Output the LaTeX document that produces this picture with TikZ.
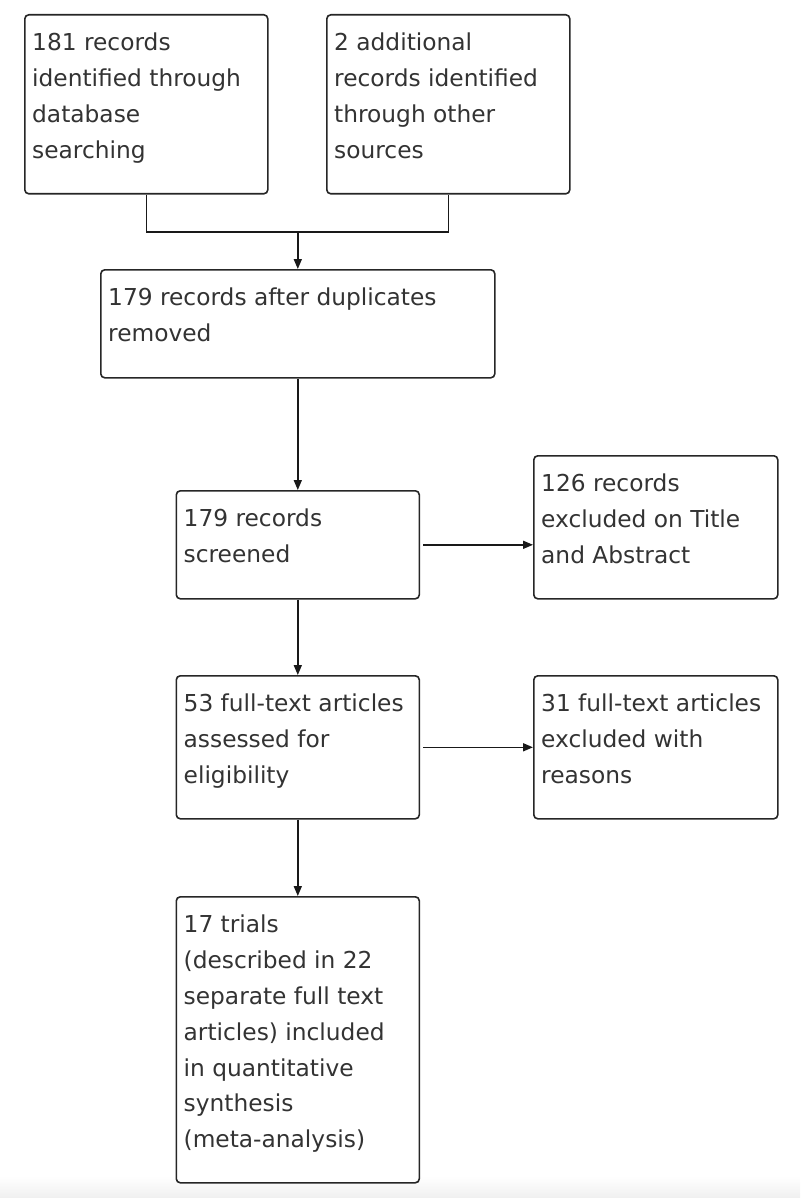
\documentclass[tikz,border=0pt]{standalone}
\usepackage{fontspec}
\setmainfont{DejaVu Sans}
\usetikzlibrary{arrows.meta}
\tikzset{
  box/.style={draw=black!85, line width=1.6pt, fill=white, rounded corners=4pt, inner sep=0pt, anchor=north west},
  txt/.style={inner sep=0pt, anchor=north west, align=left, text=black!80, font=\fontsize{23.3}{35.8}\selectfont},
  conn/.style={draw=black!90, line width=1.6pt},
  arr/.style={conn, -{Triangle[length=10pt,width=8pt]}},
}
\begin{document}
\begin{tikzpicture}[x=1pt,y=-1pt]
\useasboundingbox (0,0) rectangle (800,1198);
\shade[top color=white, bottom color=black!6] (0,1176) rectangle (800,1198);
% boxes
\node[box, minimum width=243pt, minimum height=179pt] (A) at (24,14) {};
\node[box, minimum width=243pt, minimum height=179pt] (B) at (326,14) {};
\node[box, minimum width=394pt, minimum height=108pt] (C) at (100,269) {};
\node[box, minimum width=243pt, minimum height=108pt] (D) at (175.5,490) {};
\node[box, minimum width=244pt, minimum height=143pt] (E) at (533,455) {};
\node[box, minimum width=243pt, minimum height=143pt] (F) at (175.5,675) {};
\node[box, minimum width=244pt, minimum height=143pt] (G) at (533,675) {};
\node[box, minimum width=243pt, minimum height=286pt] (H) at (175.5,896) {};
% texts
\node[txt] (At) at ([xshift=8pt,yshift=-19pt]A.north west) {181 records\\identified through\\database\\searching};
\node[txt] (Bt) at ([xshift=8pt,yshift=-19pt]B.north west) {2 additional\\records identified\\through other\\sources};
\node[txt] (Ct) at ([xshift=8pt,yshift=-19pt]C.north west) {179 records after duplicates\\removed};
\node[txt] (Dt) at ([xshift=8pt,yshift=-19pt]D.north west) {179 records\\screened};
\node[txt] (Et) at ([xshift=8pt,yshift=-19pt]E.north west) {126 records\\excluded on Title\\and Abstract};
\node[txt] (Ft) at ([xshift=8pt,yshift=-19pt]F.north west) {53 full-text articles\\assessed for\\eligibility};
\node[txt] (Gt) at ([xshift=8pt,yshift=-19pt]G.north west) {31 full-text articles\\excluded with\\reasons};
\node[txt] (Ht) at ([xshift=8pt,yshift=-19pt]H.north west) {17 trials\\(described in 22\\separate full text\\articles) included\\in quantitative\\synthesis\\(meta-analysis)};
% connectors
\coordinate (J) at (C.north |- 0,232);
\draw[conn] (A.south) |- (J) -| (B.south);
\draw[arr] (J) -- (C.north);
\draw[arr] (C.south) -- (D.north);
\draw[arr, shorten <=3pt] (D.east) -- (D.east -| E.west);
\draw[arr] (D.south) -- (F.north);
\draw[arr, shorten <=3pt] (F.east) -- (F.east -| G.west);
\draw[arr] (F.south) -- (H.north);
\end{tikzpicture}
\end{document}
